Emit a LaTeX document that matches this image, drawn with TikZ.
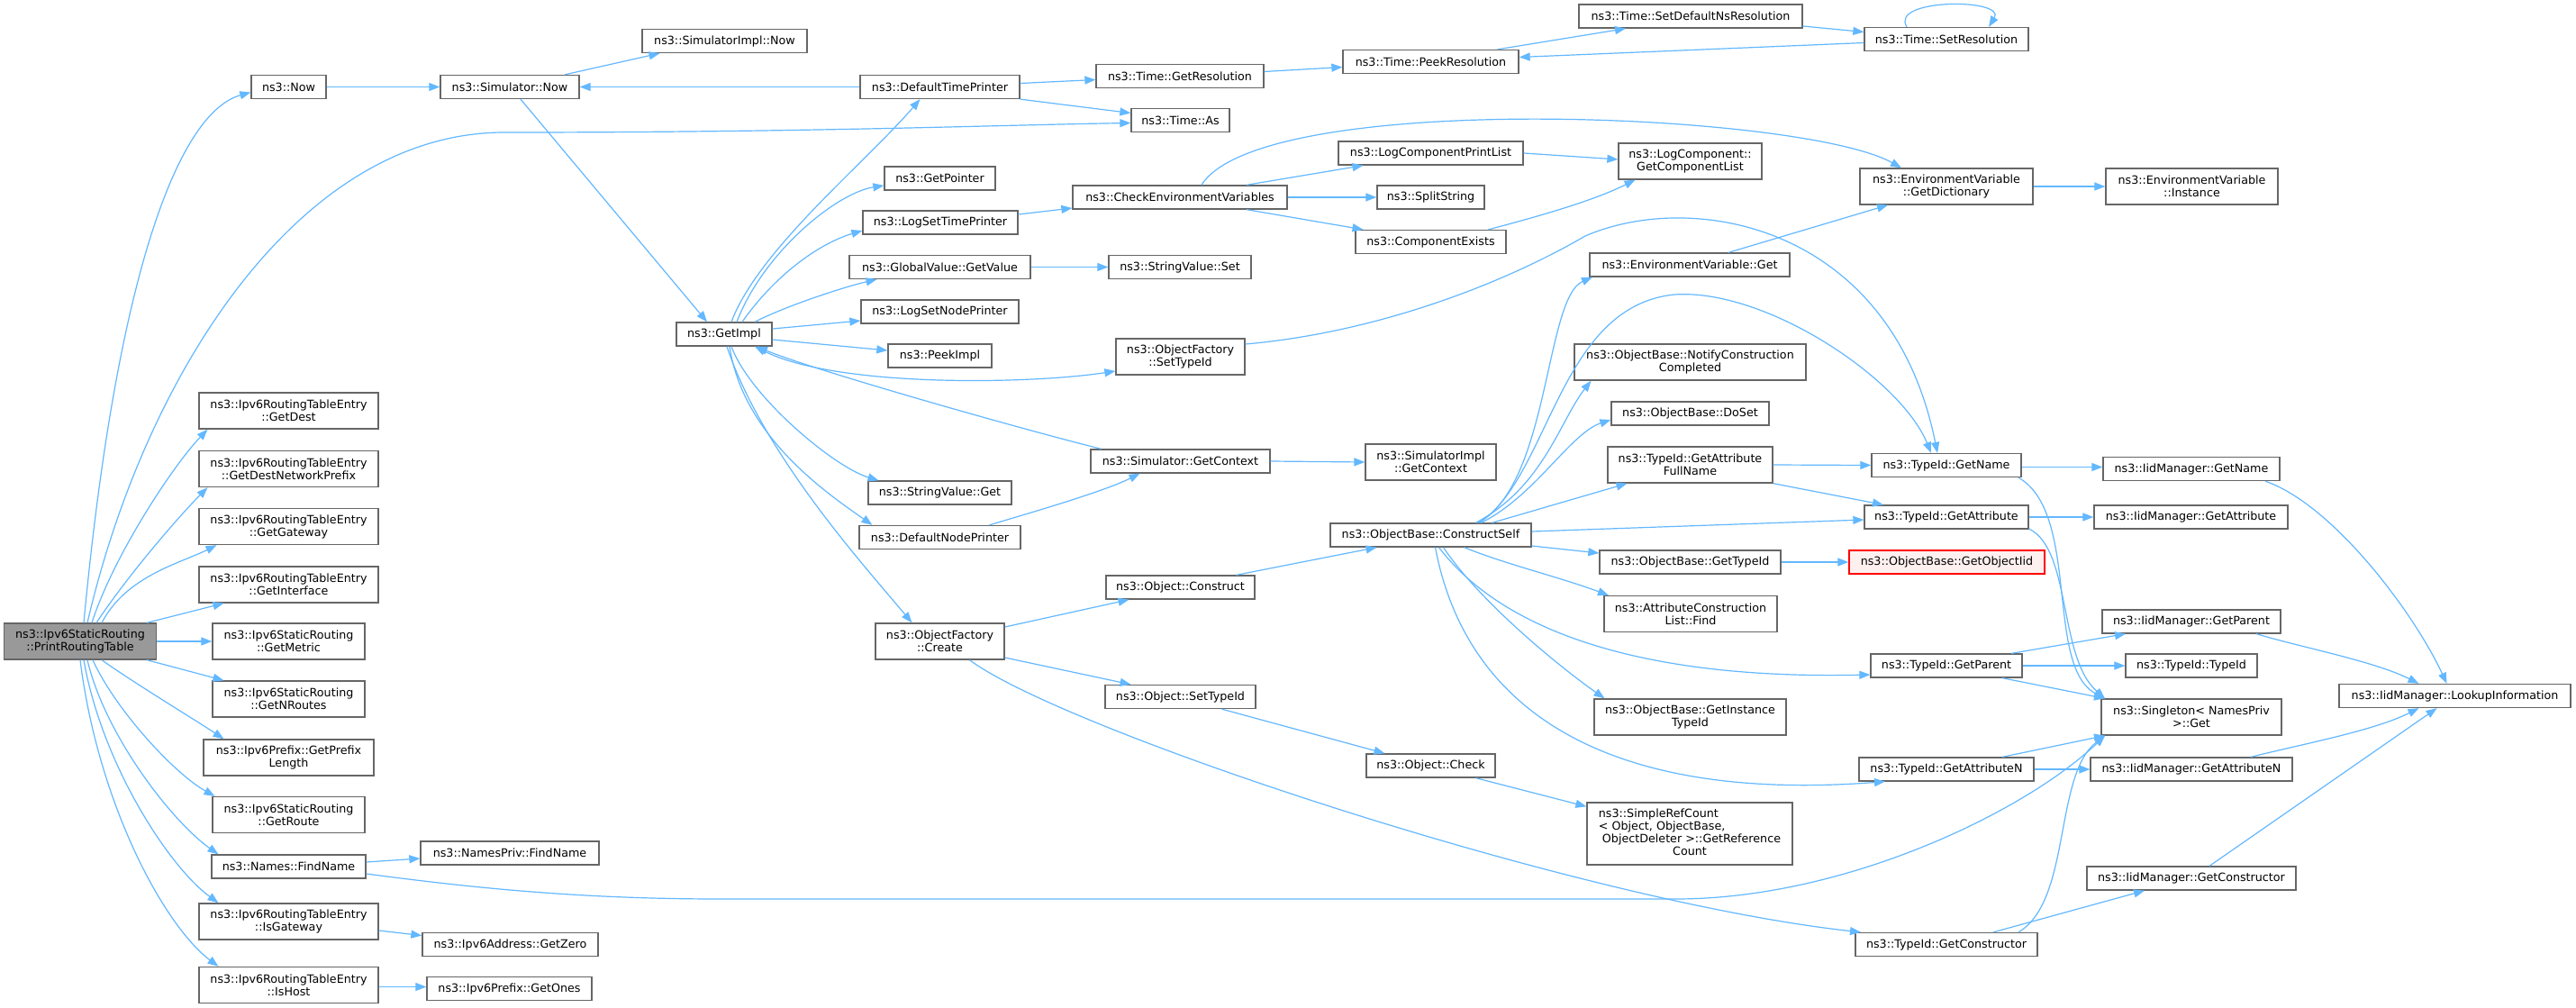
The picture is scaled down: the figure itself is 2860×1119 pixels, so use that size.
\documentclass[tikz,border=0pt]{standalone}
\usepackage{fontspec}
\setmainfont{DejaVu Sans}
\usepackage{tikz}
\usetikzlibrary{arrows.meta}
\definecolor{edgeblue}{RGB}{99,184,255}
\definecolor{framegray}{RGB}{102,102,102}
\definecolor{rootgray}{RGB}{153,153,153}
\definecolor{missingred}{RGB}{255,0,0}
\definecolor{missingfill}{RGB}{255,240,240}

\begin{document}
\begin{tikzpicture}[
    x=1pt, y=-1pt,
    fn/.style={draw=framegray, fill=white, line width=1.3pt, inner sep=2pt, align=center, font=\fontsize{12.7}{14}\selectfont},
    root/.style={fill=rootgray},
    missing/.style={draw=missingred, fill=missingfill},
    sz/.style 2 args={minimum width=#1pt, minimum height=#2pt},
    call/.style={-{Triangle[length=12pt, width=9pt]}, line width=1.2pt, edgeblue},
    mutual/.style={{Triangle[length=12pt, width=9pt]}-{Triangle[length=12pt, width=9pt]}, line width=1.2pt, edgeblue}
]
    \path[use as bounding box, fill=white] (0,0) rectangle (2860,1119);

    % Root
    \node[fn, root, sz={169}{40}] (prt) at (89,712) {ns3::Ipv6StaticRouting\\::PrintRoutingTable};

    % Direct callees
    \node[fn, sz={83}{26}] (now) at (320.5,96.5) {ns3::Now};
    \node[fn, sz={199}{40}] (getdest) at (320.5,456) {ns3::Ipv6RoutingTableEntry\\::GetDest};
    \node[fn, sz={199}{40}] (getdestnp) at (320.5,520.5) {ns3::Ipv6RoutingTableEntry\\::GetDestNetworkPrefix};
    \node[fn, sz={199}{40}] (getgw) at (320.5,584.5) {ns3::Ipv6RoutingTableEntry\\::GetGateway};
    \node[fn, sz={199}{40}] (getif) at (320.5,649) {ns3::Ipv6RoutingTableEntry\\::GetInterface};
    \node[fn, sz={169}{40}] (getmetric) at (320.5,712) {ns3::Ipv6StaticRouting\\::GetMetric};
    \node[fn, sz={169}{40}] (getnroutes) at (320.5,776) {ns3::Ipv6StaticRouting\\::GetNRoutes};
    \node[fn, sz={189}{40}] (getprefixlen) at (320.5,841) {ns3::Ipv6Prefix::GetPrefix\\Length};
    \node[fn, sz={169}{40}] (getroute) at (320.5,904.5) {ns3::Ipv6StaticRouting\\::GetRoute};
    \node[fn, sz={171}{26}] (findname) at (320.5,962) {ns3::Names::FindName};
    \node[fn, sz={199}{40}] (isgw) at (320.5,1023) {ns3::Ipv6RoutingTableEntry\\::IsGateway};
    \node[fn, sz={199}{40}] (ishost) at (320.5,1093.5) {ns3::Ipv6RoutingTableEntry\\::IsHost};

    % Second level
    \node[fn, sz={154}{26}] (simnow) at (566,96.5) {ns3::Simulator::Now};
    \node[fn, sz={198}{26}] (nprivfind) at (566,947) {ns3::NamesPriv::FindName};
    \node[fn, sz={195}{26}] (getzero) at (566.5,1048.5) {ns3::Ipv6Address::GetZero};
    \node[fn, sz={183}{26}] (getones) at (565.5,1097.5) {ns3::Ipv6Prefix::GetOnes};

    % Third level
    \node[fn, sz={183}{26}] (simimplnow) at (804.5,45.5) {ns3::SimulatorImpl::Now};
    \node[fn, sz={106}{26}] (getimpl) at (804,371) {ns3::GetImpl};

    % Fourth level
    \node[fn, sz={177}{26}] (dtp) at (1043.5,96.5) {ns3::DefaultTimePrinter};
    \node[fn, sz={123}{26}] (getpointer) at (1043.5,198) {ns3::GetPointer};
    \node[fn, sz={172}{26}] (logsettp) at (1044,247) {ns3::LogSetTimePrinter};
    \node[fn, sz={201}{26}] (gvgetvalue) at (1043.5,296.5) {ns3::GlobalValue::GetValue};
    \node[fn, sz={175}{26}] (logsetnp) at (1043.5,346) {ns3::LogSetNodePrinter};
    \node[fn, sz={115}{26}] (peekimpl) at (1043.5,395) {ns3::PeekImpl};
    \node[fn, sz={159}{26}] (svget) at (1043.5,547) {ns3::StringValue::Get};
    \node[fn, sz={179}{26}] (dnp) at (1043.5,596.5) {ns3::DefaultNodePrinter};
    \node[fn, sz={143}{40}] (ofcreate) at (1043.5,712) {ns3::ObjectFactory\\::Create};

    % Fifth level
    \node[fn, sz={186}{26}] (getres) at (1310,84.5) {ns3::Time::GetResolution};
    \node[fn, sz={109}{26}] (timeas) at (1310.5,133.5) {ns3::Time::As};
    \node[fn, sz={238}{26}] (cev) at (1310,219) {ns3::CheckEnvironmentVariables};
    \node[fn, sz={158}{26}] (svset) at (1310,296.5) {ns3::StringValue::Set};
    \node[fn, sz={143}{40}] (ofsettypeid) at (1310.5,396) {ns3::ObjectFactory\\::SetTypeId};
    \node[fn, sz={199}{26}] (simgetctx) at (1310.5,512) {ns3::Simulator::GetContext};
    \node[fn, sz={165}{26}] (objconstruct) at (1310.5,652) {ns3::Object::Construct};
    \node[fn, sz={167}{26}] (objsettypeid) at (1310.5,773.5) {ns3::Object::SetTypeId};

    % Sixth level
    \node[fn, sz={195}{26}] (peekres) at (1588.5,68.5) {ns3::Time::PeekResolution};
    \node[fn, sz={205}{26}] (lcpl) at (1588.5,170) {ns3::LogComponentPrintList};
    \node[fn, sz={119}{26}] (splitstr) at (1588.5,219) {ns3::SplitString};
    \node[fn, sz={167}{26}] (compexists) at (1588.5,268.5) {ns3::ComponentExists};
    \node[fn, sz={145}{40}] (simimplctx) at (1588.5,513) {ns3::SimulatorImpl\\::GetContext};
    \node[fn, sz={223}{26}] (constructself) at (1588.5,594) {ns3::ObjectBase::ConstructSelf};
    \node[fn, sz={143}{26}] (objcheck) at (1588.5,850) {ns3::Object::Check};

    % Seventh level
    \node[fn, sz={248}{26}] (setdefns) at (1877,18) {ns3::Time::SetDefaultNsResolution};
    \node[fn, sz={159}{40}] (lcgetcl) at (1876.5,179) {ns3::LogComponent::\\GetComponentList};
    \node[fn, sz={222}{26}] (evget) at (1876,294) {ns3::EnvironmentVariable::Get};
    \node[fn, sz={257}{40}] (notify) at (1876.5,402) {ns3::ObjectBase::NotifyConstruction\\Completed};
    \node[fn, sz={175}{26}] (doset) at (1876.5,459) {ns3::ObjectBase::DoSet};
    \node[fn, sz={183}{40}] (getattrfull) at (1876.5,516) {ns3::TypeId::GetAttribute\\FullName};
    \node[fn, sz={201}{26}] (obgettypeid) at (1876.5,624) {ns3::ObjectBase::GetTypeId};
    \node[fn, sz={192}{40}] (attrfind) at (1877,681.5) {ns3::AttributeConstruction\\List::Find};
    \node[fn, sz={213}{40}] (getinsttypeid) at (1876.5,796) {ns3::ObjectBase::GetInstance\\TypeId};
    \node[fn, sz={228}{69}] (simpleref) at (1876,925.5) {\begin{tabular}{@{}l@{}}ns3::SimpleRefCount\\< Object, ObjectBase,\\\ ObjectDeleter >::GetReference\\\multicolumn{1}{@{}c@{}}{Count}\end{tabular}};

    % Eighth level
    \node[fn, sz={182}{26}] (setres) at (2161,43.5) {ns3::Time::SetResolution};
    \node[fn, sz={192}{40}] (getdict) at (2161,207) {ns3::EnvironmentVariable\\::GetDictionary};
    \node[fn, sz={166}{26}] (tidgetname) at (2161,516.5) {ns3::TypeId::GetName};
    \node[fn, sz={182}{26}] (tidgetattr) at (2161,574) {ns3::TypeId::GetAttribute};
    \node[fn, missing, sz={217}{26}] (getobjectiid) at (2161.5,624) {ns3::ObjectBase::GetObjectIid};
    \node[fn, sz={168}{26}] (tidgetparent) at (2161,739) {ns3::TypeId::GetParent};
    \node[fn, sz={194}{26}] (tidgetattrn) at (2161,854) {ns3::TypeId::GetAttributeN};
    \node[fn, sz={202}{26}] (tidgetctor) at (2161,1048.5) {ns3::TypeId::GetConstructor};

    % Ninth level
    \node[fn, sz={191}{40}] (evinstance) at (2433.5,207) {ns3::EnvironmentVariable\\::Instance};
    \node[fn, sz={196}{26}] (iidgetname) at (2433,520.5) {ns3::IidManager::GetName};
    \node[fn, sz={215}{26}] (iidgetattr) at (2432.5,574) {ns3::IidManager::GetAttribute};
    \node[fn, sz={198}{26}] (iidgetparent) at (2433,690) {ns3::IidManager::GetParent};
    \node[fn, sz={146}{26}] (tidtypeid) at (2433,739) {ns3::TypeId::TypeId};
    \node[fn, sz={200}{40}] (singleton) at (2433,796) {ns3::Singleton< NamesPriv\\>::Get};
    \node[fn, sz={224}{26}] (iidgetattrn) at (2433,854) {ns3::IidManager::GetAttributeN};
    \node[fn, sz={232}{26}] (iidgetctor) at (2433,975) {ns3::IidManager::GetConstructor};

    % Last level
    \node[fn, sz={257}{26}] (lookup) at (2725.5,772.5) {ns3::IidManager::LookupInformation};

    % Calls of PrintRoutingTable
    \draw[call] ([xshift=4pt]prt.north) .. controls +(37,-392) and +(-79,22) .. ([yshift=-6pt]now.west);
    \draw[call] ([xshift=8pt]prt.north) .. controls +(63,-272) and (330,147) .. (560,147) .. controls (900,147) and (1100,139) .. ([yshift=-3pt]timeas.west);
    \draw[call] ([xshift=13pt]prt.north) .. controls +(23,-72) and +(-40,42) .. ([xshift=-90pt]getdest.south);
    \draw[call] ([xshift=18pt]prt.north) .. controls +(40,-60) and +(-25,25) .. ([xshift=-90pt]getdestnp.south);
    \draw[call] ([xshift=24pt]prt.north) .. controls +(27,-52) and +(-40,20) .. ([xshift=-80pt]getgw.south);
    \draw[call] ([xshift=74pt]prt.north) -- ([xshift=-72pt]getif.south);
    \draw[call] (prt.east) -- (getmetric.west);
    \draw[call] ([xshift=74pt]prt.south) -- ([xshift=-72pt]getnroutes.north);
    \draw[call] ([xshift=24pt]prt.south) .. controls +(35,25) and +(-30,-20) .. ([xshift=-72pt]getprefixlen.north);
    \draw[call] ([xshift=14pt]prt.south) .. controls +(25,55) and +(-45,-25) .. ([xshift=-82pt]getroute.north);
    \draw[call] ([xshift=8pt]prt.south) .. controls +(20,85) and +(-50,-35) .. ([xshift=-78pt]findname.north);
    \draw[call] ([xshift=4pt]prt.south) .. controls +(20,115) and +(-55,-40) .. ([xshift=-78pt]isgw.north);
    \draw[call] (prt.south) .. controls +(20,160) and +(-60,-45) .. ([xshift=-78pt]ishost.north);

    % Left branch
    \draw[call] ([yshift=5pt]findname.east) -- ([yshift=-6pt]nprivfind.west);
    \draw[call] ([yshift=-8pt]findname.east) .. controls (520,985) and (640,998) .. (800,998) -- (1860,998) .. controls (2050,998) and (2250,900) .. ([xshift=-96pt]singleton.south);
    \draw[call] ([yshift=-10pt]isgw.east) -- ([yshift=10pt]getzero.west);
    \draw[call] ([yshift=-2pt]ishost.east) -- ([yshift=2pt]getones.west);

    % Time and simulator
    \draw[call] (now.east) -- (simnow.west);
    \draw[call] ([xshift=61pt]simnow.north) -- ([xshift=-72pt]simimplnow.south);
    \draw[call] ([xshift=12pt]simnow.south) -- ([xshift=-19pt]getimpl.north);
    \draw[call] (dtp.west) -- (simnow.east);
    \draw[call] ([yshift=4pt]dtp.east) -- ([yshift=-4pt]getres.west);
    \draw[call] (dtp.south east) -- ([yshift=8pt]timeas.west);
    \draw[call] ([yshift=5pt]getres.east) -- ([yshift=-6pt]peekres.west);
    \draw[call] ([xshift=74pt]peekres.north) -- ([xshift=-72pt]setdefns.south);
    \draw[call] ([yshift=-11pt]setdefns.east) -- ([yshift=8pt]setres.west);
    \draw[call] ([yshift=-4pt]setres.west) -- ([yshift=5pt]peekres.east);
    \draw[call] ([xshift=-44pt]setres.north) .. controls +(-20,-32) and +(20,-32) .. ([xshift=47pt]setres.north);

    % Calls of GetImpl
    \draw[call] ([xshift=8pt]getimpl.north) .. controls +(30,-80) and +(-60,70) .. ([xshift=-22pt]dtp.south);
    \draw[call] ([xshift=14pt]getimpl.north) .. controls +(30,-78) and +(-52,8) .. ([yshift=-8pt]getpointer.west);
    \draw[call] ([xshift=20pt]getimpl.north) .. controls +(35,-50) and +(-50,15) .. ([yshift=-9pt]logsettp.west);
    \draw[call] ([xshift=34pt]getimpl.north) .. controls +(35,-18) and +(-35,8) .. ([xshift=-70pt]gvgetvalue.south);
    \draw[call] ([yshift=6pt]getimpl.east) -- ([yshift=-10pt]logsetnp.west);
    \draw[call] ([yshift=-6pt]getimpl.east) -- ([yshift=6pt]peekimpl.west);
    \draw[mutual] ([xshift=34pt]getimpl.south) .. controls +(90,45) and +(-100,15) .. ([yshift=-16pt]ofsettypeid.west);
    \draw[call] ([xshift=-88pt]simgetctx.north) .. controls +(-100,-25) and +(60,25) .. ([xshift=36pt]getimpl.south);
    \draw[call] ([xshift=8pt]getimpl.south) .. controls +(20,55) and +(-50,-15) .. ([xshift=-68pt]svget.north);
    \draw[call] ([xshift=6pt]getimpl.south) .. controls +(15,100) and +(-50,-35) .. ([xshift=-75pt]dnp.north);
    \draw[call] ([xshift=3pt]getimpl.south) .. controls +(40,120) and +(-50,-60) .. ([xshift=-31pt]ofcreate.north);
    \draw[call] ([xshift=55pt]dnp.north) .. controls +(50,-15) and +(-40,20) .. ([xshift=-45pt]simgetctx.south);
    \draw[call] (simgetctx.east) -- (simimplctx.west);
    \draw[call] (gvgetvalue.east) -- (svset.west);

    % Logging and environment
    \draw[call] ([yshift=9pt]logsettp.east) -- ([yshift=-12pt]cev.west);
    \draw[call] ([xshift=74pt]cev.north) -- ([xshift=-75pt]lcpl.south);
    \draw[call] (cev.east) -- (splitstr.west);
    \draw[call] ([xshift=74pt]cev.south) -- ([xshift=-75pt]compexists.north);
    \draw[call] ([xshift=24pt]cev.north) .. controls +(66,-106) and +(-111,-62) .. ([xshift=-50pt]getdict.north);
    \draw[call] (lcpl.east) -- ([yshift=2pt]lcgetcl.west);
    \draw[call] ([xshift=64pt]compexists.north) .. controls +(45,-12) and +(-50,25) .. ([xshift=-61pt]lcgetcl.south);
    \draw[call] ([xshift=43pt]evget.north) -- ([xshift=-65pt]getdict.south);
    \draw[call] (getdict.east) -- (evinstance.west);
    \draw[call] ([yshift=14pt]ofsettypeid.east) .. controls (1520,370) and (1660,320) .. (1760,262) .. controls (1880,210) and (2100,250) .. ([xshift=-10pt]tidgetname.north);

    % Object creation
    \draw[call] ([yshift=16pt]ofcreate.east) -- ([xshift=-57pt]objconstruct.south);
    \draw[call] ([yshift=-18pt]ofcreate.east) -- ([xshift=-55pt]objsettypeid.north);
    \draw[call] ([xshift=33pt]ofcreate.south) .. controls (1180,810) and (1750,1000) .. ([xshift=-95pt]tidgetctor.north);
    \draw[call] ([xshift=62pt]objconstruct.north) -- ([xshift=-60pt]constructself.south);
    \draw[call] ([xshift=46pt]objsettypeid.south) -- ([xshift=-51pt]objcheck.north);
    \draw[call] ([xshift=50pt]objcheck.south) -- ([yshift=-5pt]simpleref.north west);

    % Calls of ConstructSelf
    \draw[call] ([xshift=52pt]constructself.north) .. controls +(80,-41) and +(-53,23) .. ([xshift=-108pt]evget.south);
    \draw[call] ([xshift=54pt]constructself.north) .. controls +(78,-51) and (1730,340) .. (1859,327) .. controls (1960,320) and (2110,420) .. ([xshift=-17pt]tidgetname.north);
    \draw[call] ([xshift=50pt]constructself.north) .. controls +(75,-40) and +(-35,45) .. ([xshift=-110pt]notify.south);
    \draw[call] ([xshift=56pt]constructself.north) .. controls +(60,-30) and +(-45,15) .. ([yshift=-7pt]doset.west);
    \draw[call] ([xshift=68pt]constructself.north) -- ([xshift=-70pt]getattrfull.south);
    \draw[call] ([yshift=4pt]constructself.east) -- ([yshift=-3pt]tidgetattr.west);
    \draw[call] ([yshift=-12pt]constructself.east) -- ([yshift=10pt]obgettypeid.west);
    \draw[call] ([xshift=37pt]constructself.south) .. controls +(50,20) and +(-60,-22) .. ([xshift=-91pt]attrfind.north);
    \draw[call] ([xshift=9pt]constructself.south) .. controls (1660,690) and (1800,755) .. ([yshift=-10pt]tidgetparent.west);
    \draw[call] ([xshift=14pt]constructself.south) .. controls +(40,60) and +(-50,-35) .. ([xshift=-95pt]getinsttypeid.north);
    \draw[call] ([xshift=5pt]constructself.south) .. controls (1630,800) and (1800,890) .. ([xshift=-68pt]tidgetattrn.south);
    \draw[call] (getattrfull.east) -- (tidgetname.west);
    \draw[call] (getattrfull.south east) -- ([xshift=-70pt]tidgetattr.north);
    \draw[call] (obgettypeid.east) -- (getobjectiid.west);

    % TypeId lookups
    \draw[call] ([yshift=-2pt]tidgetname.east) -- ([yshift=2pt]iidgetname.west);
    \draw[call] ([xshift=80pt]tidgetname.south) .. controls (2310,570) and (2270,740) .. ([xshift=-96pt]singleton.north);
    \draw[call] (tidgetattr.east) -- (iidgetattr.west);
    \draw[call] ([yshift=-13pt]tidgetattr.east) .. controls (2300,610) and (2285,730) .. ([xshift=-96pt]singleton.north);
    \draw[call] ([xshift=72pt]tidgetparent.north) -- ([xshift=-73pt]iidgetparent.south);
    \draw[call] (tidgetparent.east) -- (tidtypeid.west);
    \draw[call] ([xshift=62pt]tidgetparent.south) -- ([xshift=-96pt]singleton.north);
    \draw[call] ([xshift=62pt]tidgetattrn.north) -- ([xshift=-96pt]singleton.south);
    \draw[call] (tidgetattrn.east) -- (iidgetattrn.west);
    \draw[call] ([xshift=52pt]tidgetctor.north) -- ([xshift=-52pt]iidgetctor.south);
    \draw[call] ([xshift=80pt]tidgetctor.north) .. controls (2300,1000) and (2280,860) .. ([xshift=-96pt]singleton.south);

    % IidManager lookups
    \draw[call] ([xshift=82pt]iidgetname.south) .. controls (2590,560) and (2680,680) .. ([xshift=-9pt]lookup.north);
    \draw[call] ([xshift=72pt]iidgetparent.south) .. controls +(50,15) and +(-50,-25) .. ([xshift=-40pt]lookup.north);
    \draw[call] ([xshift=66pt]iidgetattrn.north) .. controls +(60,-15) and +(-50,25) .. ([xshift=-40pt]lookup.south);
    \draw[call] ([xshift=20pt]iidgetctor.north) -- ([xshift=-20pt]lookup.south);
\end{tikzpicture}
\end{document}
